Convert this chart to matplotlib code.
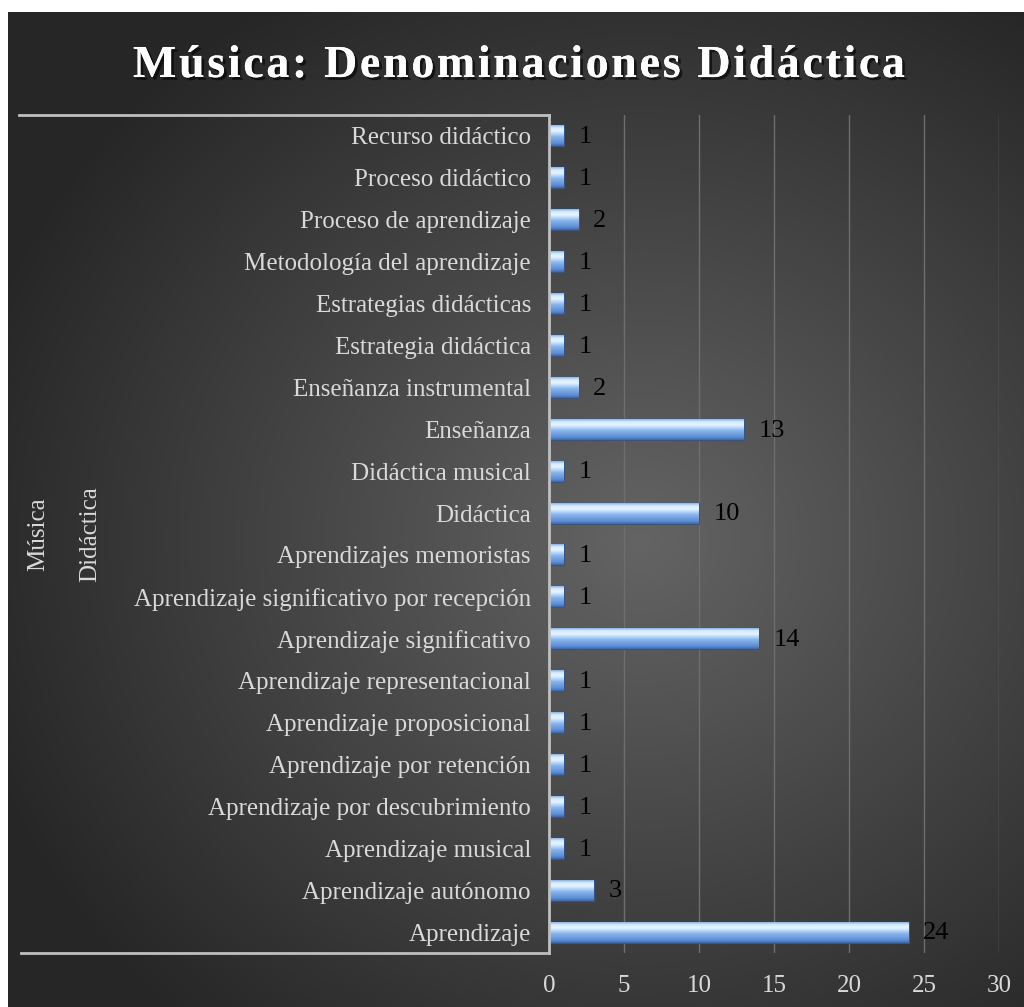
import numpy as np
import matplotlib
matplotlib.use("Agg")
import matplotlib.pyplot as plt
import matplotlib.patheffects as pe
from matplotlib.lines import Line2D
from matplotlib.colors import LinearSegmentedColormap
from matplotlib.font_manager import FontProperties

plt.rc('font', family='Liberation Serif')

# data (bottom to top, as in the sheet)
categories = [
    "Aprendizaje", "Aprendizaje autónomo", "Aprendizaje musical",
    "Aprendizaje por descubrimiento", "Aprendizaje por retención",
    "Aprendizaje proposicional", "Aprendizaje representacional",
    "Aprendizaje significativo", "Aprendizaje significativo por recepción",
    "Aprendizajes memoristas", "Didáctica", "Didáctica musical", "Enseñanza",
    "Enseñanza instrumental", "Estrategia didáctica", "Estrategias didácticas",
    "Metodología del aprendizaje", "Proceso de aprendizaje",
    "Proceso didáctico", "Recurso didáctico",
]
counts = [24, 3, 1, 1, 1, 1, 1, 14, 1, 1, 10, 1, 13, 2, 1, 1, 1, 2, 1, 1]
group_labels = ["Música", "Didáctica"]
xticks = [0, 5, 10, 15, 20, 25, 30]
title = "Música: Denominaciones Didáctica"

W, H = 1024, 1007
fig = plt.figure(figsize=(W/100, H/100), dpi=100, facecolor='white')

# dark radial background of the chart area
bg = fig.add_axes([8/W, 0, (W-8)/W, (H-12)/H], zorder=-10)
bg.set_axis_off()
gx, gy = np.meshgrid(np.arange(8, W), np.arange(12, H))
r = np.sqrt(((gx-640)/700.0)**2 + ((gy-540)/640.0)**2)
shade = 0x64 - (0x64-0x26)*np.clip(r, 0, 1)
img = np.dstack([shade, shade, shade]) / 255.0
bg.imshow(img, aspect='auto', extent=[0, 1, 0, 1], origin='upper')
bg.set_xlim(0, 1); bg.set_ylim(0, 1)

# plot area
ax = fig.add_axes([549/W, 1-953/H, 450/W, (953-115)/H])
ax.set_facecolor('none')
y = np.arange(len(categories))
bars = ax.barh(y, counts, height=0.5, color='#6d9de0', edgecolor='#2f5592',
               linewidth=0.8, zorder=3)

# glossy gradient in each bar
bar_cmap = LinearSegmentedColormap.from_list(
    'bev', [(0, '#3b68ad'), (0.12, '#5b8bd2'), (0.45, '#8ab6ec'),
            (0.72, '#e6f5ff'), (0.88, '#d2ecff'), (1, '#8ab4e8')])
grad = np.linspace(0, 1, 64).reshape(-1, 1)
for b in bars:
    x0, y0 = b.get_x(), b.get_y()
    im = ax.imshow(grad, cmap=bar_cmap, aspect='auto', origin='lower',
                   extent=[x0, x0 + b.get_width(), y0, y0 + b.get_height()],
                   zorder=3.5)
    im.set_clip_path(b)
    ax.text(b.get_width() + 0.95, y0 + b.get_height()/2 - 0.03,
            str(int(b.get_width())),
            va='center', ha='left', fontsize=19, color='black', zorder=5)

ax.set_xlim(0, 30)
ax.set_ylim(-0.5, len(categories) - 0.5)
ax.set_xticks(xticks)
ax.set_yticks(y)
ax.set_yticklabels(categories)
ax.tick_params(axis='y', length=0, pad=13, labelsize=18, labelcolor='#d9d9d9')
ax.tick_params(axis='x', length=0, pad=16, labelsize=18, labelcolor='#d9d9d9')
ax.grid(axis='x', color='#6e6e6e', linewidth=1, zorder=0)
for s in ['top', 'right', 'bottom']:
    ax.spines[s].set_visible(False)
ax.spines['left'].set_color('#bfbfbf')
ax.spines['left'].set_linewidth(2)
ax.spines['left'].set_zorder(4)

# multi-level category bracket
for yy, xs in [(115, 19), (953, 21)]:
    fig.add_artist(Line2D([xs/W, 549/W], [1-yy/H, 1-yy/H], color='#bfbfbf', lw=2))
ymid = 1 - 534/H
fig.text(38/W, ymid, group_labels[0], rotation=90, ha='center', va='center',
         fontsize=18, color='#d9d9d9')
fig.text(90/W, ymid, group_labels[1], rotation=90, ha='center', va='center',
         fontsize=18, color='#d9d9d9')

# title, drawn letter by letter to get the wide character spacing
renderer = fig.canvas.get_renderer()
fp = FontProperties(family='Liberation Serif', weight='bold', size=33)
def tw(s):
    w, h, d = renderer.get_text_width_height_descent(s + 'I', fp, ismath=False)
    w0, h0, d0 = renderer.get_text_width_height_descent('I', fp, ismath=False)
    return w - w0
title_w = 772
plain_w = tw(title)
gap = (title_w - plain_w) / (len(title) - 1)
x_left = 519 - title_w/2
shadow = [pe.withSimplePatchShadow(offset=(2, -2), shadow_rgbFace='black', alpha=0.6),
          pe.Normal()]
for i, ch in enumerate(title):
    if ch == ' ':
        continue
    xp = x_left + tw(title[:i]) + gap*i
    fig.text(xp/W, 1-77/H, ch, ha='left', va='baseline', fontproperties=fp,
             color='white', path_effects=shadow)

fig.savefig("out.png", dpi=100, facecolor='white')
